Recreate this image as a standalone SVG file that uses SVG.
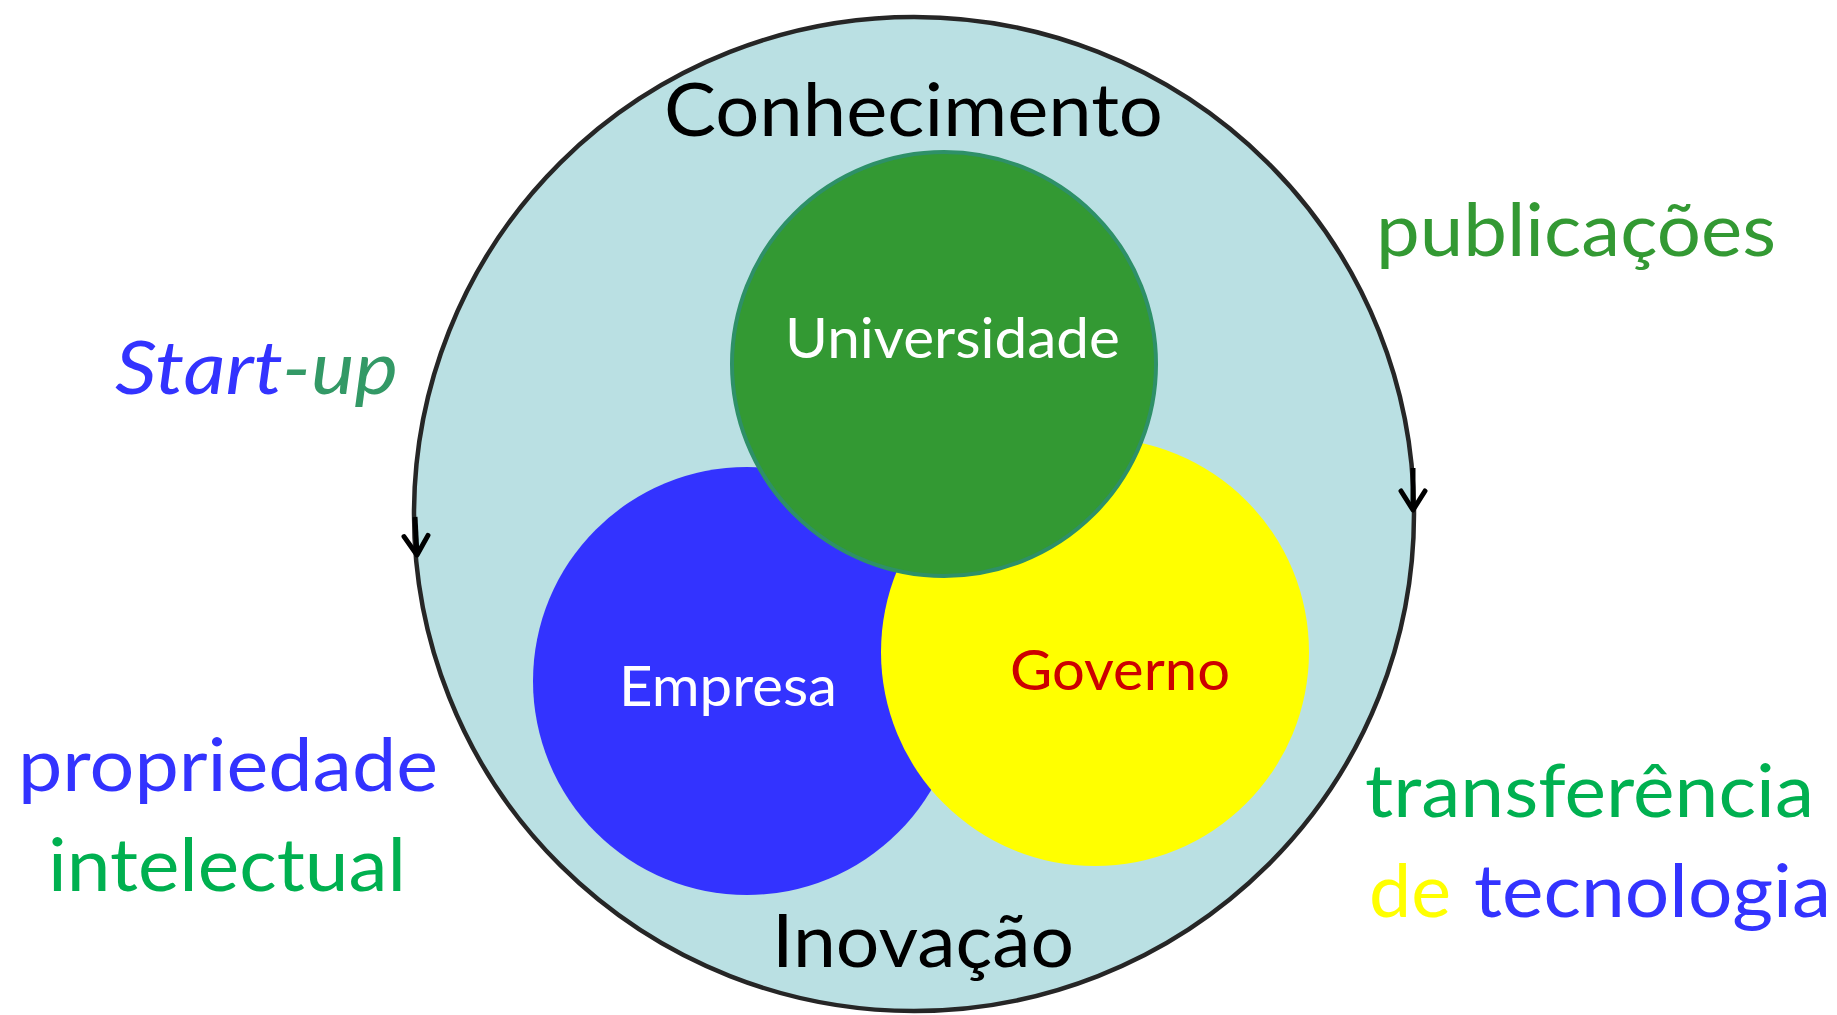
<svg xmlns="http://www.w3.org/2000/svg" width="1837" height="1015" viewBox="0 0 1837 1015">
<style>
.t{font-family:Lato,"Liberation Sans",sans-serif;}
.big{font-size:74px;}
.mid{font-size:57px;}
.arrow{fill:none;stroke:#000;stroke-width:5;}
</style>
<defs>
<marker id="chev" viewBox="-24 -16 28 32" refX="0" refY="0" markerWidth="28" markerHeight="32" markerUnits="userSpaceOnUse" orient="auto">
<path d="M-19,-12 L0,0 L-19,12" fill="none" stroke="#000" stroke-width="5" stroke-linecap="round" stroke-linejoin="round"/>
</marker>
</defs>
<rect width="1837" height="1015" fill="#fff"/>
<g id="ciclo">
<ellipse cx="914" cy="514" rx="500" ry="497" fill="#BAE0E3" stroke="#262626" stroke-width="4.5"/>
</g>
<g id="empresa">
<circle cx="747" cy="681" r="214" fill="#3333FF"/>
<text class="t mid" x="619" y="706" fill="#fff" textLength="218" lengthAdjust="spacingAndGlyphs">Empresa</text>
</g>
<g id="governo">
<circle cx="1095" cy="652" r="214" fill="#FFFF00"/>
<text class="t mid" x="1010" y="690" fill="#CC0000" textLength="220" lengthAdjust="spacingAndGlyphs">Governo</text>
</g>
<g id="universidade">
<circle cx="944" cy="364" r="212" fill="#339933" stroke="#2E9068" stroke-width="4"/>
<text class="t mid" x="785" y="358" fill="#fff" textLength="335" lengthAdjust="spacingAndGlyphs">Universidade</text>
</g>
<g id="connectors">
<path class="arrow" d="M415,517 L417,555" marker-end="url(#chev)"/>
<path class="arrow" d="M1413,468 L1413,510" marker-end="url(#chev)"/>
</g>
<g id="labels">
<text class="t big" x="664" y="136" fill="#000" textLength="499" lengthAdjust="spacingAndGlyphs">Conhecimento</text>
<text class="t big" x="772" y="967" fill="#000" textLength="302" lengthAdjust="spacingAndGlyphs">Inovação</text>
<text class="t big" x="1376" y="256" fill="#339933" textLength="400" lengthAdjust="spacingAndGlyphs">publicações</text>
<text class="t big" x="115" y="394" font-style="italic" textLength="283" lengthAdjust="spacingAndGlyphs"><tspan fill="#3333FF">Start</tspan><tspan fill="#339966">-up</tspan></text>
<text class="t big" x="18" y="791" fill="#3333FF" textLength="420" lengthAdjust="spacingAndGlyphs">propriedade</text>
<text class="t big" x="48" y="891" fill="#00B050" textLength="358" lengthAdjust="spacingAndGlyphs">intelectual</text>
<text class="t big" x="1365" y="817" fill="#00B050" textLength="449" lengthAdjust="spacingAndGlyphs">transferência</text>
<text class="t big" x="1369" y="917" fill="#FFFF00" textLength="82" lengthAdjust="spacingAndGlyphs">de</text>
<text class="t big" x="1474" y="917" fill="#3333FF" textLength="357" lengthAdjust="spacingAndGlyphs">tecnologia</text>
</g>
</svg>
